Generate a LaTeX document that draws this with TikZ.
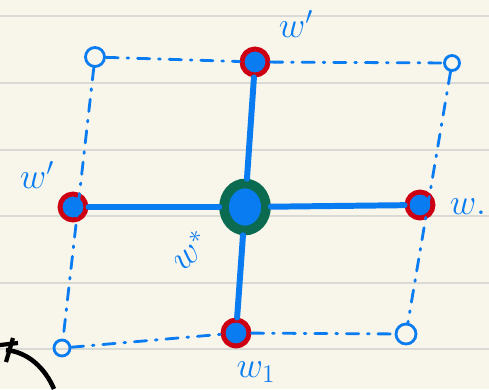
\documentclass[tikz,border=0pt]{standalone}
\usetikzlibrary{shapes.geometric}
\definecolor{paper}{HTML}{F8F6EA}
\definecolor{rule}{HTML}{D9D9D6}
\definecolor{ink}{HTML}{0A7CF2}
\definecolor{redink}{HTML}{CC0012}
\definecolor{greenink}{HTML}{0B6B50}
\tikzset{
  vtx/.style={circle,fill=ink,draw=redink,line width=2.8pt,minimum size=0.52cm,inner sep=0pt},
  hollow/.style={circle,draw=ink,line width=1.6pt,minimum size=0.38cm,inner sep=0pt},
  dotted line/.style={draw=ink,line width=1.6pt,line cap=round,dash pattern=on 7pt off 5pt on 1pt off 5pt},
  bar/.style={draw=ink,line width=3.4pt,line cap=round},
  lbl/.style={text=ink,font=\fontsize{22}{22}\selectfont}
}
\begin{document}
\begin{tikzpicture}[x=0.02cm,y=-0.02cm]
\fill[paper] (0,0) rectangle (489,389);
\useasboundingbox (0,0) rectangle (489,389);
\foreach \y in {16,83,150,216,283,349}
  \draw[rule,line width=0.8pt] (0,\y) -- (489,\y);
% corners
\node[hollow] (tl) at (95,57) {};
\node[hollow,minimum size=0.3cm] (tr) at (452,63) {};
\node[hollow,minimum size=0.32cm] (bl) at (62,348) {};
\node[hollow,minimum size=0.4cm] (br) at (406,334) {};
% weights
\node[vtx] (t) at (255,62) {};
\node[vtx] (l) at (73,207) {};
\node[vtx] (r) at (420,205) {};
\node[vtx] (b) at (236,333) {};
\node[ellipse,fill=ink,draw=greenink,line width=5.5pt,minimum width=0.84cm,minimum height=0.94cm,inner sep=0pt] (c) at (245,207) {};
% grid
\draw[dotted line] (tl) -- (t);
\draw[dotted line] (t) -- (tr);
\draw[dotted line] (tl) -- (bl);
\draw[dotted line] (tr) -- (br);
\draw[dotted line] (bl) -- (b);
\draw[dotted line] (b) -- (br);
\draw[bar] (c) -- (t);
\draw[bar] (c) -- (l);
\draw[bar] (c) -- (r);
\draw[bar] (c) -- (b);
% labels
\node[lbl] (wt) at (296,24) {$w'$};
\node[lbl] (wl) at (37,175) {$w'$};
\node[lbl] (wr) at (468,207) {$w.$};
\node[lbl] (wb) at (256,372) {$w_1$};
\node[lbl,rotate=40] (wc) at (190,250) {$w^*$};
% other sketch
\draw[black,line width=2.6pt] (6,350) .. controls (28,352) and (45,368) .. (54,389);
\draw[black,line width=2.4pt] (0,345) -- (18,343);
\draw[black,line width=2.4pt] (13,338) -- (6,362);
\end{tikzpicture}
\end{document}
